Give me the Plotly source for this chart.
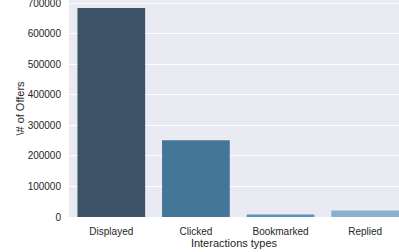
import plotly.graph_objects as go

categories = ["Displayed", "Clicked", "Bookmarked", "Replied"]
offers = [685000, 251500, 8500, 21000]
colors = ["#3d5367", "#437697", "#5792bb", "#88b1cf"]
y_ticks = [0, 100000, 200000, 300000, 400000, 500000, 600000, 700000]

fig = go.Figure(go.Bar(x=categories, y=offers, marker_color=colors,
                       marker_line_width=0, width=0.8))

font = dict(family="Liberation Sans, Arial, sans-serif", size=10, color="#262626")
fig.update_layout(
    width=399, height=252,
    margin=dict(l=69, r=0, t=0, b=35, autoexpand=False),
    paper_bgcolor="white", plot_bgcolor="#eaeaf2",
    font=font, showlegend=False, bargap=0.2,
)
fig.update_xaxes(range=[-0.5, 3.4], showgrid=False, zeroline=False, automargin=False,
                 ticks="outside", ticklen=5, tickcolor="rgba(0,0,0,0)",
                 title=dict(text="Interactions types", font=dict(size=11), standoff=2))
fig.update_yaxes(range=[0, 711000], tickvals=y_ticks, ticktext=[str(v) for v in y_ticks],
                 gridcolor="white", gridwidth=1.2, zeroline=False, automargin=False,
                 ticks="outside", ticklen=5, tickcolor="rgba(0,0,0,0)",
                 ticklabeloverflow="allow",
                 title=dict(text="\\# of Offers", font=dict(size=11), standoff=0))
fig.write_html("out.html", config={"displayModeBar": False},
               post_script="document.body.style.margin='0';document.body.style.overflow='hidden';")
